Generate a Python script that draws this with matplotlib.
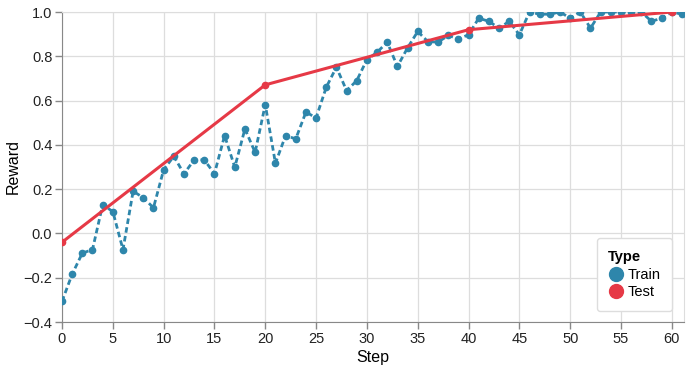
import matplotlib
matplotlib.use('Agg')
import matplotlib.pyplot as plt
import numpy as np

plt.rcParams['font.family'] = ['Liberation Sans', 'DejaVu Sans']

# training reward per step
train_steps = list(range(0, 62))
train_reward = [-0.307, -0.184, -0.089, -0.073, 0.129, 0.099, -0.073, 0.191, 0.161, 0.116,
                0.287, 0.349, 0.269, 0.332, 0.332, 0.270, 0.442, 0.299, 0.472, 0.366,
                0.582, 0.317, 0.442, 0.427, 0.548, 0.522, 0.660, 0.751, 0.645, 0.690,
                0.785, 0.818, 0.864, 0.754, 0.838, 0.912, 0.866, 0.864, 0.894, 0.879,
                0.897, 0.972, 0.958, 0.927, 0.958, 0.897, 1.0, 0.990, 0.990, 1.0,
                0.972, 1.0, 0.927, 1.0, 1.0, 1.0, 1.0, 1.0, 0.958, 0.972,
                1.0, 0.990]

# test reward every 20 steps
test_steps = [0, 20, 40, 60]
test_reward = [-0.04, 0.671, 0.92, 1.0]

train_color = '#2E86AB'
test_color = '#E63946'

fig = plt.figure(figsize=(6.91, 3.70), dpi=100)
ax = fig.add_axes([62/691, 1-322/370, (684-62)/691, (322-12)/370])

ax.plot(train_steps, train_reward, color=train_color, lw=2, ls=(0, (2, 1.2)),
        marker='o', ms=4.5, label='Train', zorder=3)
ax.plot(test_steps, test_reward, color=test_color, lw=2.2, ls='-',
        marker='o', ms=4.5, label='Test', zorder=4)

ax.set_xlim(0, 61.2)
ax.set_ylim(-0.4, 1.0)
ax.set_xticks(np.arange(0, 61, 5))
ax.set_yticks(np.arange(-0.4, 1.01, 0.2))
ax.set_yticklabels(['\u22120.4', '\u22120.2', '0.0', '0.2', '0.4', '0.6', '0.8', '1.0'])

ax.grid(True, color='#dddddd', lw=0.9)
ax.set_axisbelow(True)
for s in ['top', 'right']:
    ax.spines[s].set_color('#dddddd')
for s in ['left', 'bottom']:
    ax.spines[s].set_color('#888888')
ax.tick_params(axis='both', colors='#888888', labelcolor='#222222', labelsize=10.5,
               length=5, width=1, pad=2)

ax.set_xlabel('Step', fontsize=11.5, labelpad=3)
ax.set_ylabel('Reward', fontsize=11.5, labelpad=2)

h = [plt.Line2D([], [], ls='', marker='o', ms=10, color=train_color),
     plt.Line2D([], [], ls='', marker='o', ms=10, color=test_color)]
leg = ax.legend(h, ['Train', 'Test'], title='Type', loc='lower right',
                bbox_to_anchor=(672/691, 1-311/370), bbox_transform=fig.transFigure,
                fontsize=10.5, title_fontproperties={'weight': 'bold', 'size': 10.5},
                frameon=True, fancybox=True, edgecolor='#dddddd', framealpha=1,
                handletextpad=0.3, labelspacing=0.25, borderpad=0.8, handlelength=1.0,
                borderaxespad=0)
leg._legend_box.align = 'left'

fig.savefig('out.png', dpi=100)
